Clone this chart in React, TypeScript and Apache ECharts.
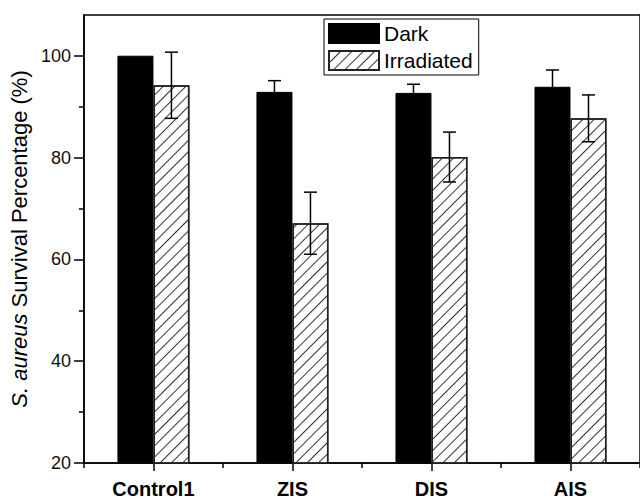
import React, { useEffect, useRef } from "react";
import * as echarts from "echarts";

const categories = ["Control1", "ZIS", "DIS", "AIS"];
const darkValues = [100, 92.9, 92.7, 93.9];
const darkErrors = [0, 2.2, 1.7, 3.3];
const irradiatedValues = [94.2, 67.1, 80.1, 87.7];
const irradiatedErrors = [6.5, 6.1, 4.9, 4.6];
const yTickValues = [20, 40, 60, 80, 100];
const yMinorTickValues = [30, 50, 70, 90];

const FONT = "'Liberation Sans', Arial, sans-serif";
const BAR_WIDTH = 36;
const CAP = 13;

function errorSeries(name: string, values: number[], errors: number[], offset: number) {
  return {
    type: "custom",
    name,
    xAxisIndex: 0,
    yAxisIndex: 0,
    z: 10,
    silent: true,
    data: values.map((v, i) => [i, v, errors[i]]),
    encode: { x: 0, y: 1 },
    renderItem: (_params: any, api: any) => {
      const idx = api.value(0);
      const val = api.value(1);
      const err = api.value(2);
      if (!err) return null;
      const top = api.coord([idx, val + err]);
      const bot = api.coord([idx, val - err]);
      const x = top[0] + offset;
      const style = { stroke: "#000", lineWidth: 1.5 };
      return {
        type: "group",
        children: [
          { type: "line", shape: { x1: x, y1: top[1], x2: x, y2: bot[1] }, style },
          { type: "line", shape: { x1: x - CAP / 2, y1: top[1], x2: x + CAP / 2, y2: top[1] }, style },
          { type: "line", shape: { x1: x - CAP / 2, y1: bot[1], x2: x + CAP / 2, y2: bot[1] }, style },
        ],
      };
    },
  };
}

export default function App() {
  const ref = useRef<HTMLDivElement>(null);

  useEffect(() => {
    if (!ref.current) return;
    const chart = echarts.init(ref.current, undefined, { renderer: "svg" });
    const hatch = {
      symbol: "rect",
      symbolSize: 1,
      color: "#333",
      dashArrayX: [1, 0],
      dashArrayY: [1, 7],
      rotation: -Math.PI / 4,
    };
    chart.setOption({
      animation: false,
      backgroundColor: "#fff",
      textStyle: { fontFamily: FONT },
      grid: {
        left: 83,
        top: 15,
        width: 568,
        height: 449,
        show: true,
        borderColor: "#000",
        borderWidth: 1.5,
      },
      legend: {
        data: ["Dark", "Irradiated"],
        orient: "vertical",
        left: 324,
        top: 19,
        padding: [4, 6, 4, 4],
        itemGap: 6,
        itemWidth: 50,
        itemHeight: 19,
        icon: "rect",
        selectedMode: false,
        borderColor: "#000",
        borderWidth: 1,
        textStyle: { fontSize: 21, color: "#000", fontFamily: FONT, lineHeight: 21 },
      },
      xAxis: [
        {
          type: "category",
          data: categories,
          position: "bottom",
          axisLine: { show: true, lineStyle: { color: "#000", width: 1.5 } },
          axisTick: { show: true, alignWithLabel: true, inside: false, length: 8, lineStyle: { color: "#000", width: 1.5 } },
          axisLabel: { fontSize: 20, fontWeight: "bold", color: "#000", margin: 16, fontFamily: FONT },
          splitLine: { show: false },
        },
        {
          type: "category",
          data: categories,
          position: "bottom",
          axisLine: { show: false },
          axisTick: { show: true, alignWithLabel: false, length: 5, lineStyle: { color: "#000", width: 1.5 } },
          axisLabel: { show: false },
          splitLine: { show: false },
        },
      ],
      yAxis: [
        {
          type: "value",
          min: 20,
          max: 108,
          position: "left",
          name: "{i|S. aureus} Survival Percentage (%)",
          nameLocation: "middle",
          nameRotate: 90,
          nameGap: 44,
          nameTextStyle: {
            fontSize: 22,
            color: "#000",
            fontFamily: FONT,
            rich: { i: { fontStyle: "italic", fontSize: 22, color: "#000", fontFamily: FONT } },
          },
          axisLine: { show: true, lineStyle: { color: "#000", width: 1.5 } },
          axisTick: { show: true, length: 10, customValues: yTickValues, lineStyle: { color: "#000", width: 1.5 } },
          axisLabel: { fontSize: 18, color: "#111", margin: 13, customValues: yTickValues, fontFamily: FONT },
          splitLine: { show: false },
        },
        {
          type: "value",
          min: 20,
          max: 108,
          position: "left",
          axisLine: { show: false },
          axisTick: { show: true, length: 5, customValues: yMinorTickValues, lineStyle: { color: "#000", width: 1.5 } },
          axisLabel: { show: false },
          splitLine: { show: false },
        },
      ],
      series: [
        {
          type: "bar",
          name: "Dark",
          data: darkValues,
          barWidth: BAR_WIDTH,
          barGap: "0%",
          itemStyle: { color: "#000", borderColor: "#000", borderWidth: 1 },
        },
        {
          type: "bar",
          name: "Irradiated",
          data: irradiatedValues,
          barWidth: BAR_WIDTH,
          barGap: "0%",
          itemStyle: { color: "#fff", borderColor: "#222", borderWidth: 1.5, decal: hatch },
        },
        errorSeries("Dark error", darkValues, darkErrors, -BAR_WIDTH / 2),
        errorSeries("Irradiated error", irradiatedValues, irradiatedErrors, BAR_WIDTH / 2),
      ],
    });
    return () => chart.dispose();
  }, []);

  return (
    <div
      ref={ref}
      style={{ position: "absolute", left: 0, top: 0, width: 640, height: 499 }}
    />
  );
}
